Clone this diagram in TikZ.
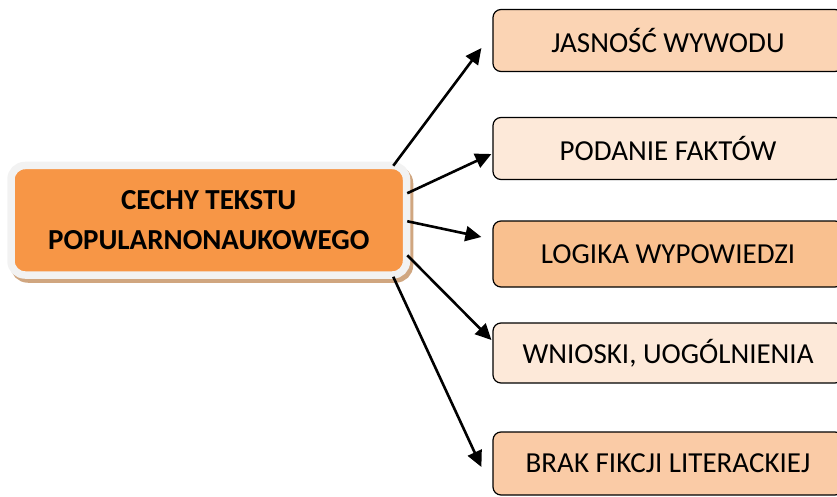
\documentclass[tikz,border=0pt]{standalone}
\usepackage{fontspec}
\setmainfont{Carlito}
\usetikzlibrary{arrows.meta}
\usetikzlibrary{shadows}

\definecolor{pomarancz}{HTML}{F79646}
\definecolor{obwodka}{HTML}{F2F2F2}
\definecolor{cien}{HTML}{D0A680}
\definecolor{jasny}{HTML}{FBD4B4}
\definecolor{blady}{HTML}{FDE9D9}
\definecolor{ciemny}{HTML}{F9C08F}
\definecolor{sredni}{HTML}{FACBA6}

\tikzset{
  cecha/.style={draw, line width=1.2pt, rounded corners=8pt, minimum width=350pt,
    minimum height=62pt, inner sep=0pt, font=\fontsize{29}{34}\selectfont},
  strzalka/.style={-{Triangle[length=16pt,width=15pt]}, line width=2.6pt}
}

\begin{document}
\begin{tikzpicture}[x=1pt,y=-1pt]
    \useasboundingbox (0,0) rectangle (837,497);
    \node[fill=pomarancz, draw=obwodka, line width=7.5pt, rounded corners=14pt,
      minimum width=395.5pt, minimum height=109.5pt, inner sep=0pt, align=center,
      font=\fontsize{29}{40}\selectfont\bfseries,
      general shadow={fill=cien, draw=cien, line width=7.5pt, shadow xshift=3pt, shadow yshift=-4pt}]
      (cechy) at (208.75,220.25) {CECHY TEKSTU\\POPULARNONAUKOWEGO};

    \node[cecha, fill=jasny] (jasnosc) at (668,40.5) {JASNOŚĆ WYWODU};
    \node[cecha, fill=blady] (fakty) at (668,148.5) {PODANIE FAKTÓW};
    \node[cecha, fill=ciemny, minimum height=66pt] (logika) at (668,254) {LOGIKA WYPOWIEDZI};
    \node[cecha, fill=blady, minimum height=60pt] (wnioski) at (668,353) {WNIOSKI, UOGÓLNIENIA};
    \node[cecha, fill=sredni, minimum height=63pt] (brak) at (668,463.5) {BRAK FIKCJI LITERACKIEJ};

    \draw[strzalka] ([xshift=-17pt,yshift=-4pt]cechy.north east) -- ([xshift=-11pt,yshift=-7.5pt]jasnosc.west);
    \draw[strzalka] ([xshift=-3pt,yshift=27pt]cechy.east) -- ([xshift=-1pt,yshift=-5.5pt]fakty.west);
    \draw[strzalka] ([xshift=-3pt,yshift=-1pt]cechy.east) -- ([xshift=-11pt,yshift=17pt]logika.west);
    \draw[strzalka] ([xshift=-3pt,yshift=-35pt]cechy.east) -- ([xshift=-1pt,yshift=13pt]wnioski.west);
    \draw[strzalka] ([xshift=-17pt,yshift=2pt]cechy.south east) -- ([xshift=-11pt,yshift=-3.5pt]brak.west);
\end{tikzpicture}
\end{document}
